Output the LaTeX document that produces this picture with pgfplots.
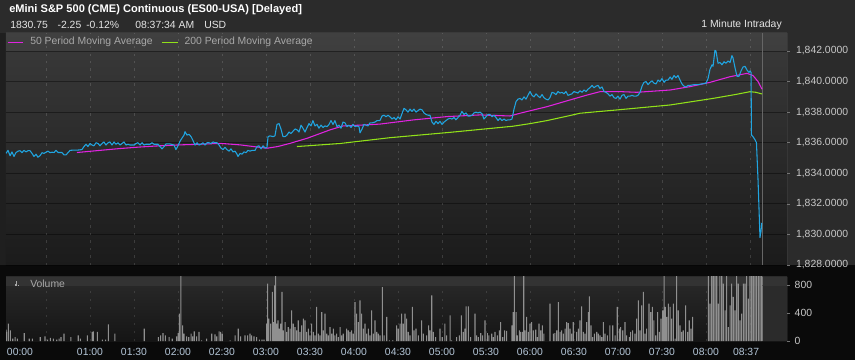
\documentclass[border=0pt]{standalone}
\usepackage{pgfplots}
\pgfplotsset{compat=1.18}
\usepackage{pgfplotstable}
\usepackage{fontspec}
\setmainfont{Liberation Sans}
\definecolor{bgtop}{HTML}{2B2B2B}
\definecolor{pricecol}{RGB}{32,165,225}
\definecolor{maA}{RGB}{225,35,225}
\definecolor{maB}{RGB}{145,225,25}
\definecolor{volcol}{HTML}{909090}
\definecolor{lbl}{HTML}{C8C8C8}
\definecolor{tlbl}{HTML}{B4C6D8}
\definecolor{leg}{HTML}{A8A8A8}
\definecolor{gA}{HTML}{3A3A3A}
\definecolor{gB}{HTML}{1B1B1B}
\definecolor{vA}{HTML}{2A2A2A}
\definecolor{vB}{HTML}{151515}
\definecolor{vband}{HTML}{333333}
\newcommand{\sz}{\fontsize{7.8}{9}\selectfont}

\pgfplotstableread{
m p
2.7 1835.30
4.1 1835.50
5.5 1835.15
6.8 1835.40
8.2 1835.10
9.5 1835.35
10.9 1835.45
12.3 1835.48
13.6 1835.35
15.0 1835.50
16.4 1835.40
17.7 1835.48
19.1 1835.48
20.5 1835.30
21.8 1835.10
23.2 1835.25
24.5 1835.05
25.9 1835.15
27.3 1835.35
28.6 1835.30
30.0 1835.38
31.4 1835.45
32.7 1835.35
34.1 1835.38
35.5 1835.36
36.8 1835.50
38.2 1835.36
39.5 1835.36
40.9 1835.36
42.3 1835.20
43.6 1835.20
45.0 1835.35
46.4 1835.50
49.1 1835.52
51.8 1835.52
54.5 1835.55
55.9 1835.75
57.3 1835.90
58.6 1835.75
60.0 1835.95
61.4 1835.85
62.7 1835.80
64.1 1836.00
65.5 1835.95
66.8 1835.80
68.2 1835.95
69.5 1836.05
70.9 1835.85
72.3 1836.00
73.6 1836.05
75.0 1835.85
76.4 1836.05
77.7 1835.90
79.1 1836.00
80.5 1835.85
81.8 1835.95
83.2 1836.05
84.5 1835.85
85.9 1835.90
87.3 1835.85
90.0 1835.85
91.4 1835.95
92.7 1836.00
94.1 1835.85
95.5 1836.00
96.8 1835.85
98.2 1835.90
100.9 1835.90
102.3 1836.00
103.6 1835.90
106.4 1835.90
107.7 1835.75
109.1 1835.60
110.5 1835.75
111.8 1835.92
114.5 1835.92
117.3 1835.85
118.6 1835.55
120.0 1835.80
121.4 1836.10
122.7 1836.30
124.1 1836.50
124.8 1836.72
126.1 1836.50
127.5 1836.55
128.9 1836.40
130.2 1836.15
131.6 1835.85
133.0 1836.00
134.3 1835.85
135.7 1835.90
137.0 1836.00
138.4 1835.85
139.8 1836.00
141.1 1836.00
142.5 1835.95
143.9 1836.05
145.2 1836.00
146.6 1836.00
148.0 1835.85
149.3 1835.65
150.7 1835.55
152.0 1835.70
153.4 1835.55
154.8 1835.45
156.1 1835.60
157.5 1835.40
158.9 1835.45
160.2 1835.25
160.9 1835.10
162.3 1835.30
163.6 1835.25
165.0 1835.40
166.4 1835.35
167.7 1835.50
169.1 1835.45
170.5 1835.50
172.5 1835.50
173.9 1835.75
175.2 1835.80
176.6 1835.60
178.0 1835.80
179.3 1835.65
180.7 1835.70
181.4 1836.40
182.7 1836.45
184.8 1836.40
186.1 1836.45
187.5 1837.20
188.9 1837.25
190.2 1836.90
191.6 1836.40
193.0 1836.40
194.3 1836.50
195.7 1836.70
197.0 1836.60
198.4 1836.75
199.8 1836.90
201.1 1836.85
202.5 1836.70
203.9 1837.15
205.2 1836.95
206.6 1836.70
208.0 1837.00
209.3 1837.25
210.7 1837.10
212.0 1837.45
213.4 1837.10
214.8 1837.20
216.1 1836.95
217.5 1837.15
218.9 1837.00
220.2 1837.10
221.6 1837.05
223.0 1837.20
224.3 1837.45
225.7 1837.20
227.0 1837.45
228.4 1837.05
229.8 1837.15
231.1 1836.95
232.5 1837.35
233.9 1837.30
235.2 1837.05
236.6 1837.15
238.0 1837.00
239.3 1837.20
240.7 1837.05
242.0 1837.10
243.4 1837.05
244.1 1836.65
245.5 1836.90
246.8 1837.20
248.2 1837.15
249.5 1837.10
250.9 1837.30
252.3 1837.30
254.3 1837.35
255.7 1837.45
257.7 1837.45
259.1 1837.75
260.5 1837.80
261.8 1837.70
263.2 1837.80
264.5 1837.70
265.9 1837.55
267.3 1837.65
268.6 1837.50
270.0 1837.70
271.4 1837.55
272.7 1837.90
274.1 1838.25
275.5 1838.15
276.8 1838.00
278.2 1838.20
279.5 1838.05
280.9 1838.20
282.3 1838.00
283.6 1838.10
285.0 1838.20
286.4 1838.15
287.7 1837.95
289.1 1837.85
290.5 1837.80
291.8 1837.80
293.2 1837.35
294.5 1837.20
295.9 1837.40
297.3 1837.25
298.6 1837.40
300.0 1837.20
301.4 1837.35
302.7 1837.45
304.1 1837.55
305.5 1837.60
306.8 1837.55
308.2 1837.65
309.5 1837.50
310.9 1837.65
312.3 1837.80
313.6 1838.05
315.0 1837.85
316.4 1837.95
317.7 1837.75
319.1 1837.75
320.5 1837.80
321.8 1837.95
323.2 1838.00
324.5 1837.95
325.9 1838.00
327.3 1837.90
328.6 1837.55
330.0 1837.70
331.4 1837.85
332.7 1837.85
334.1 1837.70
335.5 1837.80
336.8 1837.65
338.2 1837.45
339.5 1837.60
340.9 1837.45
342.3 1837.55
343.6 1837.45
345.0 1837.50
346.4 1837.50
347.7 1837.55
349.1 1838.20
350.5 1838.70
351.8 1838.85
353.2 1838.90
354.5 1838.80
355.9 1839.00
357.3 1838.85
358.6 1839.10
360.0 1839.35
361.4 1839.10
362.7 1839.00
364.1 1839.20
365.5 1839.05
366.8 1838.95
368.2 1839.15
369.5 1838.95
370.9 1838.85
372.3 1838.80
373.6 1838.95
375.0 1839.30
376.4 1839.25
377.7 1839.15
379.1 1839.35
380.5 1839.25
381.8 1839.30
383.2 1839.20
384.5 1839.35
385.9 1839.10
387.3 1839.15
388.6 1839.20
390.0 1839.35
391.4 1839.30
392.7 1839.25
394.1 1839.40
395.5 1839.30
396.8 1839.45
398.2 1839.35
399.5 1839.50
400.9 1839.60
402.3 1839.75
403.6 1839.60
405.0 1839.70
406.4 1839.75
407.7 1839.55
409.1 1839.65
410.5 1839.35
411.8 1839.30
413.2 1839.20
414.5 1839.05
415.9 1839.15
417.3 1838.95
418.6 1838.90
420.0 1839.05
421.4 1838.85
422.7 1839.10
424.1 1839.15
425.5 1838.90
426.8 1839.05
428.2 1839.05
429.5 1839.10
430.9 1839.05
432.3 1839.05
433.6 1839.10
435.0 1839.30
436.4 1839.70
437.7 1839.95
439.1 1840.00
440.5 1839.80
441.8 1839.95
443.2 1840.05
444.5 1839.90
445.9 1839.85
447.3 1840.10
448.6 1840.00
450.0 1840.20
451.4 1839.95
452.7 1840.10
454.1 1840.10
455.5 1840.30
456.8 1840.15
458.2 1840.40
459.5 1840.25
460.9 1840.40
462.3 1840.10
463.6 1839.85
465.0 1839.70
466.4 1839.65
467.7 1839.75
469.1 1839.75
471.8 1839.80
474.5 1839.80
477.3 1839.85
480.0 1839.90
481.4 1840.20
482.7 1840.80
484.1 1841.10
484.8 1841.00
486.1 1842.05
486.8 1842.00
488.2 1841.20
489.5 1841.25
490.9 1841.10
492.3 1841.30
493.6 1841.20
495.0 1841.35
496.4 1841.25
497.7 1841.70
498.4 1841.55
499.8 1840.90
501.1 1840.35
502.5 1840.35
503.9 1840.70
505.2 1840.95
506.6 1841.00
508.0 1840.75
509.3 1840.60
510.0 1840.70
510.7 1840.60
511.0 1836.50
512.0 1836.40
513.4 1836.20
514.4 1836.00
515.5 1833.50
516.1 1831.80
516.8 1829.80
517.5 1830.20
518.0 1830.75
}\pricetab

\pgfplotstableread{
m p
51.1 1835.36
66.8 1835.50
80.5 1835.62
94.1 1835.72
107.7 1835.80
121.4 1835.86
135.0 1835.90
148.6 1835.96
162.3 1835.86
180.7 1835.64
188.0 1835.75
196.4 1835.96
208.0 1836.29
223.6 1836.84
232.5 1837.10
246.1 1837.16
257.7 1837.22
280.2 1837.49
303.4 1837.71
325.9 1837.82
346.4 1837.75
353.2 1837.93
371.6 1838.36
387.3 1838.80
398.9 1839.12
407.7 1839.34
420.0 1839.35
432.9 1839.30
455.5 1839.45
469.1 1839.67
482.7 1839.95
496.4 1840.32
508.0 1840.54
512.0 1840.40
515.5 1840.00
518.2 1839.50
}\maAtab

\pgfplotstableread{
m p
201.1 1835.75
230.5 1835.95
264.5 1836.33
305.5 1836.68
348.4 1837.08
360.0 1837.25
371.6 1837.45
387.3 1837.78
394.1 1837.93
418.6 1838.14
455.5 1838.47
484.8 1838.90
499.8 1839.15
510.0 1839.34
514.0 1839.30
518.2 1839.19
}\maBtab

\pgfplotstableread{
m v
2.8 162
3.2 130
4.3 248
5.7 152
7.3 33
8.9 57
10.5 33
15.2 114
18.6 33
20.7 33
26.1 57
29.3 67
31.1 19
33.0 43
35.0 33
37.3 19
38.9 33
40.2 57
42.3 105
47.0 57
52.0 81
53.4 33
58.2 81
61.4 129
62.3 138
65.0 129
68.4 19
70.7 19
72.5 238
77.0 105
97.0 176
106.6 57
108.2 81
109.8 114
111.4 81
113.9 57
116.1 33
119.1 67
120.2 114
120.9 390
122.0 1000
123.2 224
124.1 105
125.9 67
127.3 57
128.9 105
130.0 67
131.1 138
132.7 67
134.3 129
136.1 10
139.5 33
143.0 105
145.2 95
146.4 67
148.0 138
149.1 129
150.2 105
155.5 10
158.9 81
161.1 176
162.7 67
165.7 81
167.5 81
169.1 105
170.2 81
171.8 67
173.6 57
175.5 19
177.3 19
178.6 19
180.5 248
181.1 819
182.0 319
183.2 248
184.3 700
185.0 271
185.9 795
186.6 1000
187.3 248
188.2 295
189.1 176
190.0 248
190.9 700
191.8 152
193.0 271
194.1 129
195.2 200
196.4 176
197.5 438
198.6 248
199.8 200
200.9 152
202.0 295
203.2 129
204.3 224
205.5 319
206.6 295
207.7 129
208.9 176
210.0 81
211.1 248
212.3 129
213.4 81
214.5 486
215.7 105
216.8 81
218.0 414
219.1 152
220.2 390
221.4 105
222.5 81
223.6 200
224.8 105
225.9 176
227.0 81
228.2 105
229.3 57
230.5 200
231.6 81
232.7 105
235.0 176
236.1 152
237.3 129
238.4 152
239.5 105
240.7 557
241.8 390
243.0 271
244.1 581
245.2 390
246.4 176
247.5 248
248.6 105
249.8 176
250.9 81
252.0 438
253.2 105
254.3 295
255.5 129
256.6 105
257.7 81
259.3 771
260.5 81
262.3 343
264.1 10
266.4 10
269.1 224
270.2 176
271.4 248
272.5 390
273.6 248
274.8 390
275.9 319
277.0 129
278.2 81
279.8 486
280.9 152
282.3 176
283.9 81
286.1 295
287.3 105
289.5 81
290.9 224
291.8 152
293.0 652
294.1 129
295.7 57
298.6 176
300.2 57
302.0 248
303.2 81
305.5 367
306.6 10
310.0 57
311.8 81
313.2 367
314.5 129
315.7 176
316.4 495
318.0 495
319.5 57
322.5 390
323.6 81
324.8 57
326.4 114
327.7 81
329.3 295
330.9 114
332.0 81
333.9 105
335.0 57
336.1 129
337.7 81
339.1 152
340.0 271
341.4 57
342.7 152
344.1 143
347.7 224
348.6 414
349.3 1000
350.5 414
351.4 81
352.7 152
353.6 129
354.8 129
355.7 1000
356.6 152
357.7 343
358.9 129
360.0 248
361.1 271
362.3 152
363.9 162
365.0 57
366.1 248
367.3 152
368.4 224
369.5 105
373.6 533
375.9 105
377.0 114
378.2 152
379.3 557
380.5 129
381.6 152
382.7 105
383.9 176
385.0 271
386.1 257
387.3 176
388.4 105
389.5 271
391.8 129
393.0 176
394.1 295
395.2 495
396.4 129
397.5 105
398.6 271
399.8 414
400.5 638
401.6 224
402.7 57
403.9 105
405.5 129
406.6 105
407.7 81
408.9 57
410.0 271
411.1 105
412.7 81
414.5 224
416.4 224
418.0 81
419.5 486
420.9 176
421.8 200
423.2 152
424.8 271
425.9 81
427.7 57
428.6 129
430.0 152
431.6 105
432.7 319
433.9 581
435.0 152
436.1 510
437.3 700
438.4 105
439.5 176
441.1 533
442.3 414
443.4 486
444.5 295
445.7 81
447.0 414
448.2 129
449.3 319
450.5 438
451.4 1000
452.3 486
453.2 343
454.3 533
455.5 486
456.6 319
457.7 533
458.9 33
460.0 1000
461.1 438
462.3 224
463.4 129
464.5 152
466.1 510
467.5 129
468.6 295
469.8 176
470.9 343
481.6 1000
482.7 533
483.9 1000
485.0 1000
486.1 1000
487.3 1000
488.4 533
489.5 1000
490.7 1000
491.8 819
493.0 438
494.1 1000
495.2 200
496.4 510
497.5 819
498.6 629
499.8 438
500.9 1000
502.0 819
503.2 295
504.3 390
505.5 819
506.6 819
507.7 1000
508.9 605
510.0 1000
511.1 1000
512.2 1000
513.4 1000
514.5 1000
515.7 1000
516.8 1000
518.0 1000
}\voltab

\begin{document}
\begin{tikzpicture}
\path[use as bounding box] (0,0) rectangle (641.25pt,270pt);
\fill[bgtop] (0,0) rectangle (641.25pt,270pt);
\fill[black!96] (0,0) rectangle (641.25pt,71.25pt);
\fill[black!88] (0,71.25pt) rectangle (4.5pt,245.25pt);

\node[anchor=west, inner sep=0pt, text=white, font=\fontsize{8.3}{10}\selectfont\bfseries] at (6.75pt,262.5pt) {eMini S\&P 500 (CME) Continuous (ES00-USA) [Delayed]};
\node[anchor=west, inner sep=0pt, text=white!90!black, font=\sz] at (7.5pt,251.25pt) {1830.75};
\node[anchor=west, inner sep=0pt, text=white!90!black, font=\sz] at (43pt,251.25pt) {-2.25};
\node[anchor=west, inner sep=0pt, text=white!90!black, font=\sz] at (64.5pt,251.25pt) {-0.12\%};
\node[anchor=west, inner sep=0pt, text=white!90!black, font=\sz] at (101.25pt,251.25pt) {08:37:34 AM};
\node[anchor=west, inner sep=0pt, text=white!90!black, font=\sz] at (153pt,251.25pt) {USD};
\node[anchor=east, inner sep=0pt, text=white!90!black, font=\sz] at (586.5pt,251.25pt) {1 Minute Intraday};

\begin{axis}[
  at={(4.5pt,71.25pt)}, anchor=south west, scale only axis,
  width=585.75pt, height=174pt,
  xmin=2.727, xmax=535.23, ymin=1828, ymax=1843.18,
  axis background/.style={shade, top color=gA, bottom color=gB},
  axis line style={draw=none},
  xtick=\empty,
  extra x ticks={30,60,...,510},
  extra x tick labels={},
  extra x tick style={grid=major, major grid style={white, opacity=0.14, line width=0.5pt, dash pattern=on 1.8pt off 3.8pt}, major tick length=0pt},
  ytick={1828,1830,...,1842},
  yticklabels={{1,828.0000},{1,830.0000},{1,832.0000},{1,834.0000},{1,836.0000},{1,838.0000},{1,840.0000},{1,842.0000}},
  minor y tick num=1,
  ytick pos=right, yticklabel pos=right,
  tick align=outside, major tick length=2.25pt, minor tick length=1.3pt,
  tick style={color=black!55, line width=0.5pt},
  yticklabel style={font=\sz, text=lbl, anchor=west, xshift=1pt},
  ymajorgrids, major grid style={black, opacity=0.4, line width=0.6pt},
]
\fill[white, opacity=0.03] (axis cs:2.727,1842) rectangle (axis cs:535.23,1843.18);
\draw[black!60, line width=0.6pt] (axis cs:518.2,1828) -- (axis cs:518.2,1843.18);
\draw[black!45, line width=0.5pt] (rel axis cs:1,0) -- (rel axis cs:1,1);
\addplot[maA, line width=0.8pt] table[x=m, y=p] {\maAtab};
\addplot[maB, line width=0.8pt] table[x=m, y=p] {\maBtab};
\addplot[pricecol, line width=0.8pt, line join=round] table[x=m, y=p] {\pricetab};
\end{axis}

% legend
\draw[maA, line width=0.6pt] (6.2pt,238.5pt) -- (17.5pt,238.5pt);
\node[anchor=west, inner sep=0pt, text=leg, font=\sz] at (22.5pt,238.5pt) {50 Period Moving Average};
\draw[maB, line width=0.6pt] (121.7pt,238.5pt) -- (133.7pt,238.5pt);
\node[anchor=west, inner sep=0pt, text=leg, font=\sz] at (138.2pt,238.5pt) {200 Period Moving Average};

\begin{axis}[
  at={(4.5pt,14.25pt)}, anchor=south west, scale only axis,
  width=585.75pt, height=48pt,
  xmin=2.727, xmax=535.23, ymin=0, ymax=914.3,
  axis background/.style={shade, top color=vA, bottom color=vB},
  axis line style={draw=none},
  xtick={12.27,60,90,120,150,180,210,240,270,300,330,360,390,420,450,480,507.3},
  xticklabels={00:00,01:00,01:30,02:00,02:30,03:00,03:30,04:00,04:30,05:00,05:30,06:00,06:30,07:00,07:30,08:00,08:37},
  xtick style={draw=none},
  xticklabel style={font=\sz, text=tlbl, anchor=north, yshift=0pt},
  extra x ticks={30,60,...,510},
  extra x tick labels={},
  extra x tick style={grid=major, major grid style={white, opacity=0.12, line width=0.5pt, dash pattern=on 1.8pt off 4.2pt}, major tick length=0pt},
  ytick={0,400,800}, yticklabels={0,400,800},
  ytick pos=right, yticklabel pos=right,
  tick align=outside, major tick length=2.25pt,
  ytick style={color=black!55, line width=0.5pt},
  yticklabel style={font=\sz, text=lbl, anchor=west, xshift=0pt},
]
\fill[vband] (axis cs:2.727,800) rectangle (axis cs:535.23,914.3);
\fill[bgtop] (axis cs:518.2,0) rectangle (axis cs:535.23,800);
\draw[black!60, line width=0.6pt] (axis cs:518.2,0) -- (axis cs:518.2,914.3);
\draw[black!80, line width=0.6pt] (axis cs:2.727,800) -- (axis cs:535.23,800);
\draw[black!45, line width=0.5pt] (rel axis cs:1,0) -- (rel axis cs:1,1);
\addplot[ybar, bar width=0.75, fill=volcol, draw=none] table[x=m, y=v] {\voltab};
\end{axis}

\node[anchor=west, inner sep=0pt, text=leg, font=\sz] at (22.5pt,57.5pt) {Volume};
\draw[leg, line width=0.6pt] (11.2pt,55.5pt) -- (11.2pt,57pt);
\draw[leg, line width=0.6pt] (12.4pt,55.5pt) -- (12.4pt,59pt);
\draw[leg, line width=0.6pt] (13.6pt,55.5pt) -- (13.6pt,56.3pt);
\end{tikzpicture}
\end{document}
